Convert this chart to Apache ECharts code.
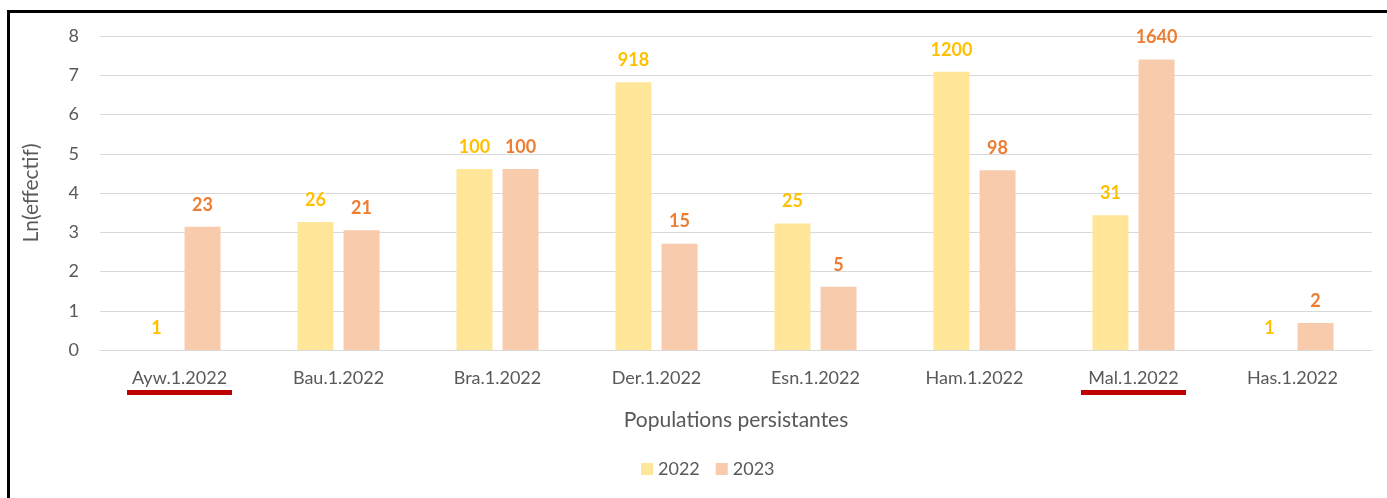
<!DOCTYPE html>
<html>
<head>
<meta charset="utf-8">
<script src="https://cdn.jsdelivr.net/npm/echarts@6/dist/echarts.min.js"></script>
<style>
  html, body { margin: 0; padding: 0; background: #fff; }
  #chart { width: 1387px; height: 498px; }
  .frame {
    position: absolute; left: 7px; top: 10px; width: 1390px; height: 500px;
    border: 3px solid #000; box-sizing: border-box; pointer-events: none;
  }
</style>
</head>
<body>
<div id="chart"></div>
<div class="frame"></div>
<script>
// categories + values (bar height = ln(count), label = count)
const categories = ["Ayw.1.2022", "Bau.1.2022", "Bra.1.2022", "Der.1.2022", "Esn.1.2022", "Ham.1.2022", "Mal.1.2022", "Has.1.2022"];
const ln2022 = [0, 3.26, 4.61, 6.82, 3.22, 7.09, 3.43, 0];
const ln2023 = [3.14, 3.05, 4.61, 2.71, 1.61, 4.58, 7.40, 0.69];
const count2022 = [1, 26, 100, 918, 25, 1200, 31, 1];
const count2023 = [23, 21, 100, 15, 5, 98, 1640, 2];
const underlined = ["Ayw.1.2022", "Mal.1.2022"];
const yTicks = [0, 1, 2, 3, 4, 5, 6, 7, 8];

const font = "Lato, 'Open Sans', sans-serif";
const myChart = echarts.init(document.getElementById("chart"));

const option = {
  animation: false,
  textStyle: { fontFamily: font },
  grid: { left: 100, right: 15, top: 36, bottom: 148 },
  legend: {
    data: ["2022", "2023"],
    bottom: 15,
    left: 636,
    itemWidth: 12,
    itemHeight: 12,
    itemGap: 16,
    icon: "rect",
    textStyle: { color: "#595959", fontSize: 18, fontFamily: font },
  },
  xAxis: {
    type: "category",
    data: categories,
    name: "Populations persistantes",
    nameLocation: "middle",
    nameGap: 60,
    nameTextStyle: { color: "#595959", fontSize: 21, fontFamily: font },
    axisLine: { lineStyle: { color: "#D9D9D9", width: 1 } },
    axisTick: { show: false },
    axisLabel: {
      color: "#595959",
      fontSize: 18,
      margin: 17,
      formatter: (v) => underlined.includes(v) ? "{t|" + v + "}\n{u|}" : "{t|" + v + "}",
      rich: {
        t: { color: "#595959", fontSize: 18, lineHeight: 23, fontFamily: font },
        u: { backgroundColor: "#C00000", width: 105, height: 5, lineHeight: 5 },
      },
    },
  },
  yAxis: {
    type: "value",
    min: yTicks[0],
    max: yTicks[yTicks.length - 1],
    interval: 1,
    name: "Ln(effectif)",
    nameLocation: "middle",
    nameGap: 58,
    nameRotate: 90,
    nameTextStyle: { color: "#595959", fontSize: 21, fontFamily: font },
    axisLine: { show: false },
    axisTick: { show: false },
    axisLabel: { color: "#595959", fontSize: 18, margin: 21 },
    splitLine: { lineStyle: { color: "#D9D9D9", width: 1 } },
  },
  series: [
    {
      name: "2022",
      type: "bar",
      data: ln2022,
      barWidth: 36,
      barGap: "28%",
      itemStyle: { color: "#FFE699" },
      label: {
        show: true,
        position: "top",
        distance: 13,
        color: "#FFC000",
        fontWeight: "bold",
        fontSize: 18,
        fontFamily: font,
        formatter: (p) => count2022[p.dataIndex],
      },
    },
    {
      name: "2023",
      type: "bar",
      data: ln2023,
      barWidth: 36,
      barGap: "28%",
      itemStyle: { color: "#F8CBAD" },
      label: {
        show: true,
        position: "top",
        distance: 13,
        color: "#ED7D31",
        fontWeight: "bold",
        fontSize: 18,
        fontFamily: font,
        formatter: (p) => count2023[p.dataIndex],
      },
    },
  ],
};
myChart.setOption(option);
</script>
</body>
</html>
